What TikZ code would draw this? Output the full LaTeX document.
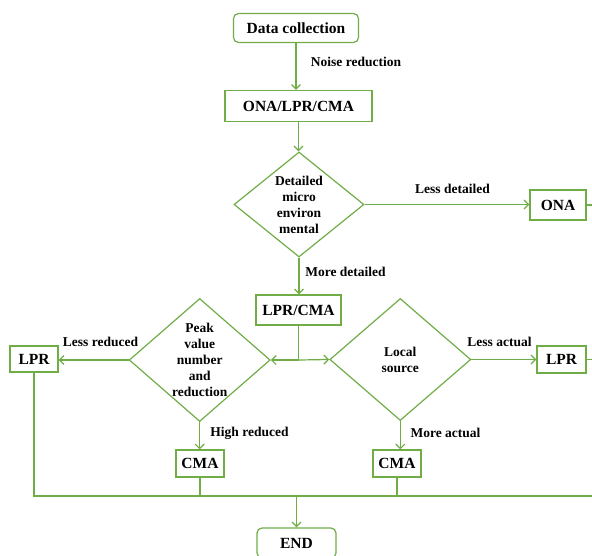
\documentclass[tikz,border=0pt]{standalone}
\usepackage{fontspec}
\setmainfont{Liberation Serif}
\usetikzlibrary{arrows.meta,shapes.geometric}
\definecolor{lgreen}{RGB}{112,173,71}
\begin{document}
\begin{tikzpicture}[x=1pt,y=-1pt,
  line width=1.2pt, draw=lgreen,
  every node/.style={font=\bfseries},
  box/.style={draw=lgreen,line width=1.2pt,inner sep=0pt,font=\fontsize{15.5}{18}\selectfont\bfseries},
  rbox/.style={box,rounded corners=5pt},
  dia/.style={draw=lgreen,line width=1.2pt,shape=diamond,inner sep=0pt},
  dtext/.style={align=center,inner sep=0pt,font=\fontsize{13.5}{16}\selectfont\bfseries},
  lab/.style={inner sep=0pt,font=\fontsize{13.5}{16}\selectfont\bfseries},
  arr/.style={draw=lgreen,line width=1.2pt,-{Straight Barb[length=4.5pt,width=9pt,line width=1.2pt]}},
  ln/.style={draw=lgreen,line width=1.2pt}
]
\useasboundingbox (0,0) rectangle (592,555);
\fill[white] (0,0) rectangle (592,555);

% nodes
\node[rbox,minimum width=125pt,minimum height=29pt] (dc) at (296,28) {Data collection};
\node[box,minimum width=147pt,minimum height=31pt] (ona1) at (298.5,106) {ONA/LPR/CMA};
\node[dia,minimum width=130pt,minimum height=105pt] (d1) at (299,204.5) {};
\node[dtext] (d1t) at (d1.center) {Detailed\\micro\\environ\\mental};
\node[box,minimum width=56pt,minimum height=30pt] (onaR) at (558,205) {ONA};
\node[box,minimum width=85pt,minimum height=30pt] (lc) at (298.5,310) {LPR/CMA};
\node[dia,minimum width=141pt,minimum height=123pt] (d2) at (199.7,360) {};
\node[dtext] (d2t) at (d2.center) {Peak\\value\\number\\and\\reduction};
\node[dia,minimum width=141pt,minimum height=122pt] (d3) at (400.3,359.5) {};
\node[dtext] (d3t) at (d3.center) {Local\\source};
\node[box,minimum width=48pt,minimum height=26pt] (lprL) at (34,359) {LPR};
\node[box,minimum width=49pt,minimum height=27pt] (lprR) at (561.5,359.5) {LPR};
\node[box,minimum width=48pt,minimum height=27pt] (cmaL) at (200,463.5) {CMA};
\node[box,minimum width=48pt,minimum height=27pt] (cmaR) at (397,463.5) {CMA};
\node[rbox,minimum width=79pt,minimum height=30pt] (end) at (296.5,543) {END};

% coordinates
\coordinate (j1) at (lc.south |- d2.east);
\coordinate (bl) at (lprL.south |- 0,496);
\coordinate (br) at (592,496);
\coordinate (jb) at (end.north |- bl);
\coordinate (onaE) at (592,205);
\coordinate (lprE) at (592,359.5);

% connectors
\draw[arr] (dc.south) -- (dc.south |- ona1.north);
\draw[arr] (ona1.south) -- (ona1.south |- d1.north);
\draw[arr] (d1.east) -- (onaR.west |- d1.east);
\draw[ln] (onaR.east) -- (onaE);
\draw[arr] (d1.south) -- (d1.south |- lc.north);
\draw[ln] (lc.south) -- (j1);
\draw[arr] (j1) -- (d2.east);
\draw[arr] (j1) -- (d3.west);
\draw[arr] (d2.west) -- (lprL.east |- d2.west);
\draw[arr] (d2.south) -- (d2.south |- cmaL.north);
\draw[arr] (d3.east) -- (lprR.west |- d3.east);
\draw[arr] (d3.south) -- (d3.south |- cmaR.north);
\draw[ln] (lprR.east) -- (lprE);
\draw[ln] (lprL.south) -- (bl) -- (br);
\draw[ln] (cmaL.south) -- (cmaL.south |- bl);
\draw[ln] (cmaR.south) -- (cmaR.south |- bl);
\draw[arr] (jb) -- (end.north);

% labels
\node[lab] (l1) at (356,61.5) {Noise reduction};
\node[lab] (l2) at (452.5,189) {Less detailed};
\node[lab] (l3) at (345.5,272.3) {More detailed};
\node[lab] (l4) at (100.5,341.7) {Less reduced};
\node[lab] (l5) at (249.5,433.3) {High reduced};
\node[lab] (l6) at (499.5,341.7) {Less actual};
\node[lab] (l7) at (445.5,433.3) {More actual};
\end{tikzpicture}
\end{document}
